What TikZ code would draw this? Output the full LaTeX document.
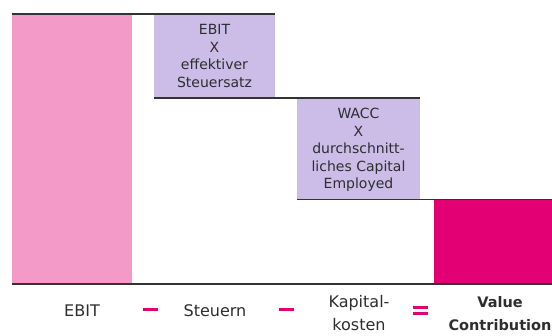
\documentclass[tikz,border=0pt]{standalone}
\usepackage{fontspec}
\setmainfont{DejaVu Sans}
\usetikzlibrary{positioning}
\definecolor{pinkbar}{HTML}{F49AC8}
\definecolor{lilac}{HTML}{CBBDE8}
\definecolor{telemagenta}{HTML}{E20074}
\definecolor{textgray}{HTML}{2E2E2E}
\definecolor{linegray}{HTML}{333333}

\begin{document}
\begin{tikzpicture}[x=1pt,y=-1pt,
    stepline/.style={draw=linegray,line width=1.5pt},
    boxtext/.style={align=center,text=textgray,font=\fontsize{14}{17.5}\selectfont},
    labeltext/.style={align=center,text=textgray,font=\fontsize{16}{23}\selectfont},
    opbar/.style={fill=telemagenta,minimum width=15pt,minimum height=3pt,inner sep=0pt}]
    \useasboundingbox (0,0) rectangle (552,336);
    % Coordinates
    \coordinate (A) at (12,14);
    \coordinate (B) at (132,284);
    \coordinate (C) at (154,14);
    \coordinate (D) at (275,98);
    \coordinate (E) at (297,98);
    \coordinate (F) at (420,199.5);
    \coordinate (G) at (434,199.5);
    \coordinate (H) at (552,284);
    \coordinate (I) at (12,284);
    % Bars
    \fill[pinkbar] (A) rectangle (B);
    \fill[lilac] (C) rectangle (D);
    \fill[lilac] (E) rectangle (F);
    \fill[telemagenta] (G) rectangle (H);
    % Step lines
    \draw[stepline] (A) -- (C |- A) -- (D |- A);
    \draw[stepline] (C |- D) -- (F |- D);
    \draw[stepline] (E |- F) -- (H |- F);
    \draw[stepline] (I) -- (H);
    % Box texts
    \node[boxtext] (tax) at (214.5,56) {EBIT\\X\\effektiver\\Steuersatz};
    \node[boxtext] (capcost) at (358.5,150) {WACC\\X\\durchschnitt-\\liches Capital\\Employed};
    % Formula below
    \node[labeltext] (ebit) at (82,311) {EBIT};
    \node[opbar] (minusA) at (150.5,310) {};
    \node[labeltext] (steuern) at (215,311) {Steuern};
    \node[opbar] (minusB) at (286,310) {};
    \node[labeltext] (kapital) at (359,313.5) {Kapital-\\kosten};
    \node[opbar] (eqtop) at (420.5,308) {};
    \node[opbar] (eqbot) at (420.5,314) {};
    \node[labeltext,font=\fontsize{14.5}{23}\selectfont\bfseries] (value) at (500,313.5) {Value\\Contribution};
\end{tikzpicture}
\end{document}
